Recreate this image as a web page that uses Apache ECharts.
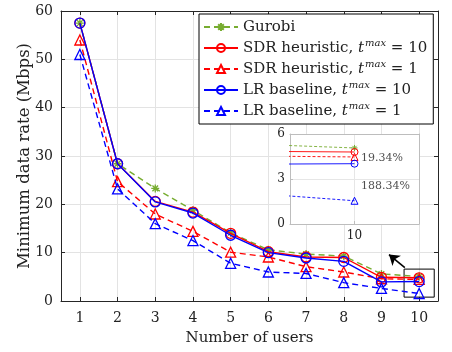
<!DOCTYPE html>
<html><head><meta charset="utf-8">
<script src="https://cdn.jsdelivr.net/npm/echarts@6/dist/echarts.min.js"></script>
<style>html,body{margin:0;padding:0;background:#fff}#c{width:452px;height:352px}</style>
</head><body><div id="c"></div>
<script>
const users = [1, 2, 3, 4, 5, 6, 7, 8, 9, 10];
const yTicks = [0, 10, 20, 30, 40, 50, 60];
const gurobi = [57.5, 28.4, 23.3, 18.8, 14.1, 10.6, 9.7, 9.3, 5.6, 5.07];
const sdr10  = [57.5, 28.4, 20.6, 18.4, 14.0, 10.2, 9.1, 9.0, 4.9, 4.8];
const sdr1   = [54.0, 24.7, 18.0, 14.4, 10.1, 9.1, 7.1, 6.0, 4.6, 4.47];
const lr10   = [57.5, 28.4, 20.5, 18.2, 13.6, 10.0, 8.9, 8.2, 3.95, 4.02];
const lr1    = [51.0, 23.2, 16.0, 12.5, 7.8, 6.0, 5.7, 3.8, 2.6, 1.55];
const names = ['Gurobi', 'SDR heuristic, t^max = 10', 'SDR heuristic, t^max = 1', 'LR baseline, t^max = 10', 'LR baseline, t^max = 1'];
const insetTicksY = [0, 3, 6];
const insetTicksX = [10];
const gapLabels = ['19.34%', '188.34%'];

const FONT = 'DejaVu Serif';
const GREEN = '#77AC30', RED = '#ff0000', BLUE = '#0000ff';
const pairs = v => users.map((u, i) => [u, v[i]]);
const star = 'path://M0,-10L0,10M-10,0L10,0M-7,-7L7,7M-7,7L7,-7';

const specs = [
  {data: gurobi, color: GREEN, type: 'dashed', symbol: star, fill: GREEN},
  {data: sdr10, color: RED, type: 'solid', symbol: 'circle'},
  {data: sdr1, color: RED, type: 'dashed', symbol: 'triangle'},
  {data: lr10, color: BLUE, type: 'solid', symbol: 'circle'},
  {data: lr1, color: BLUE, type: 'dashed', symbol: 'triangle'}
];

const series = [];
specs.forEach((s, k) => {
  series.push({
    name: names[k], type: 'line', xAxisIndex: 0, yAxisIndex: 0, z: 3 + k,
    data: pairs(s.data), symbol: s.symbol, symbolSize: s.symbol === star ? 8 : 10,
    lineStyle: {color: s.color, width: 1.4, type: s.type === 'dashed' ? [6, 4] : 'solid'},
    itemStyle: {color: s.fill || 'rgba(0,0,0,0)', borderColor: s.color, borderWidth: 1.3},
    emphasis: {disabled: true}, animation: false
  });
  series.push({
    type: 'line', xAxisIndex: 2, yAxisIndex: 2, z: 20 + k, clip: true,
    data: pairs(s.data), symbol: s.symbol, symbolSize: s.symbol === star ? 6 : 7,
    lineStyle: {color: s.color, width: 0.9, type: s.type === 'dashed' ? [3, 2] : 'solid'},
    itemStyle: {color: s.fill || 'rgba(0,0,0,0)', borderColor: s.color, borderWidth: 1},
    emphasis: {disabled: true}, animation: false
  });
});

// zoom box and arrow in main plot
series.push({
  type: 'line', xAxisIndex: 0, yAxisIndex: 0, data: [], z: 15, silent: true,
  markArea: {silent: true, itemStyle: {color: 'rgba(0,0,0,0)', borderColor: '#000', borderWidth: 1},
    data: [[{coord: [9.6, 0.8]}, {coord: [10.4, 6.6]}]]},
  markLine: {silent: true, symbol: ['none', 'arrow'], symbolSize: 10, label: {show: false},
    lineStyle: {color: '#000', width: 1.6, type: 'solid'},
    data: [[{coord: [9.62, 6.9]}, {coord: [9.2, 9.6]}]]}
});
// inset arrows + labels
series.push({
  type: 'scatter', xAxisIndex: 2, yAxisIndex: 2, z: 30, symbolSize: 0, silent: true,
  data: [[10.03, 4.4, gapLabels[0]], [10.03, 2.5, gapLabels[1]]],
  label: {show: true, position: 'right', distance: 0, formatter: p => p.data[2],
    fontFamily: FONT, fontSize: 11, color: '#222'},
  markLine: {silent: true, symbol: ['none', 'arrow'], symbolSize: 5, label: {show: false},
    lineStyle: {color: '#666', width: 0.8, type: 'solid'},
    data: [[{coord: [10, 4.95]}, {coord: [10, 4.12]}], [{coord: [10, 3.75]}, {coord: [10, 1.8]}]]}
});

const axisCol = '#262626';
const option = {
  animation: false,
  backgroundColor: '#fff',
  grid: [
    {left: 61, top: 11, right: 14, bottom: 51, show: false},
    {left: 290, top: 134, width: 129, height: 90, show: true, backgroundColor: '#fff', borderWidth: 0, z: 12}
  ],
  legend: {
    show: true, orient: 'vertical', left: 199, top: 14, z: 40,
    data: names, backgroundColor: '#fff', borderColor: '#000', borderWidth: 1,
    padding: [3, 6, 3, 4], itemWidth: 34, itemHeight: 10, itemGap: 1, itemTextGap: 3,
    formatter: n => n.replace('t^max', '{it|t}{sup|max}'),
    textStyle: {fontFamily: FONT, fontSize: 15, color: '#222', lineHeight: 20,
      rich: {it: {fontFamily: FONT, fontSize: 15, fontStyle: 'italic', lineHeight: 20},
             sup: {fontFamily: FONT, fontSize: 10, fontStyle: 'italic', lineHeight: 9, verticalAlign: 'top', padding: [0, 0, 0, 1]}}}
  },
  xAxis: [
    {type: 'value', gridIndex: 0, min: 0.5, max: 10.5, position: 'bottom',
     name: 'Number of users', nameLocation: 'middle', nameGap: 30,
     nameTextStyle: {fontFamily: FONT, fontSize: 15, color: '#222'},
     axisLine: {show: true, onZero: false, lineStyle: {color: axisCol, width: 1}},
     axisTick: {show: true, inside: true, length: 4, customValues: users, lineStyle: {color: axisCol}},
     axisLabel: {customValues: users, fontFamily: FONT, fontSize: 14, color: '#222', margin: 10},
     splitLine: {show: true, customValues: users, lineStyle: {color: '#e3e3e3', width: 1}}},
    {type: 'value', gridIndex: 0, min: 0.5, max: 10.5, position: 'top',
     axisLine: {show: true, onZero: false, lineStyle: {color: axisCol, width: 1}},
     axisTick: {show: true, inside: true, length: 4, customValues: users, lineStyle: {color: axisCol}},
     axisLabel: {show: false}, splitLine: {show: false}},
    {type: 'value', gridIndex: 1, min: 9.7, max: 10.3, position: 'bottom', z: 14,
     axisLine: {show: true, onZero: false, lineStyle: {color: '#bdbdbd', width: 1}},
     axisTick: {show: true, inside: true, length: 3, customValues: insetTicksX, lineStyle: {color: '#bdbdbd'}},
     axisLabel: {customValues: insetTicksX, fontFamily: FONT, fontSize: 12, color: '#222', margin: 6},
     splitLine: {show: true, customValues: insetTicksX, lineStyle: {color: '#e6e6e6'}}},
    {type: 'value', gridIndex: 1, min: 9.7, max: 10.3, position: 'top', z: 14,
     axisLine: {show: true, onZero: false, lineStyle: {color: '#bdbdbd', width: 1}},
     axisTick: {show: false}, axisLabel: {show: false}, splitLine: {show: false}}
  ],
  yAxis: [
    {type: 'value', gridIndex: 0, min: 0, max: 60, interval: 10, position: 'left',
     name: 'Minimum data rate (Mbps)', nameLocation: 'middle', nameGap: 28, nameMoveOverlap: false,
     nameTextStyle: {fontFamily: FONT, fontSize: 16.5, color: '#222'},
     axisLine: {show: true, lineStyle: {color: axisCol, width: 1}},
     axisTick: {show: true, inside: true, length: 4, lineStyle: {color: axisCol}},
     axisLabel: {fontFamily: FONT, fontSize: 14, color: '#222', margin: 8},
     splitLine: {show: true, lineStyle: {color: '#e3e3e3', width: 1}}},
    {type: 'value', gridIndex: 0, min: 0, max: 60, interval: 10, position: 'right',
     axisLine: {show: true, lineStyle: {color: axisCol, width: 1}},
     axisTick: {show: true, inside: true, length: 4, lineStyle: {color: axisCol}},
     axisLabel: {show: false}, splitLine: {show: false}},
    {type: 'value', gridIndex: 1, min: 0, max: 6, interval: 3, position: 'left', z: 14,
     axisLine: {show: true, lineStyle: {color: '#bdbdbd', width: 1}},
     axisTick: {show: true, inside: true, length: 3, lineStyle: {color: '#bdbdbd'}},
     axisLabel: {fontFamily: FONT, fontSize: 12, color: '#222', margin: 5},
     splitLine: {show: true, lineStyle: {color: '#e6e6e6'}}},
    {type: 'value', gridIndex: 1, min: 0, max: 6, interval: 3, position: 'right', z: 14,
     axisLine: {show: true, lineStyle: {color: '#bdbdbd', width: 1}},
     axisTick: {show: false}, axisLabel: {show: false}, splitLine: {show: false}}
  ],
  series: series
};
const chart = echarts.init(document.getElementById('c'), null, {renderer: 'canvas'});
chart.setOption(option);
</script>
</body></html>
